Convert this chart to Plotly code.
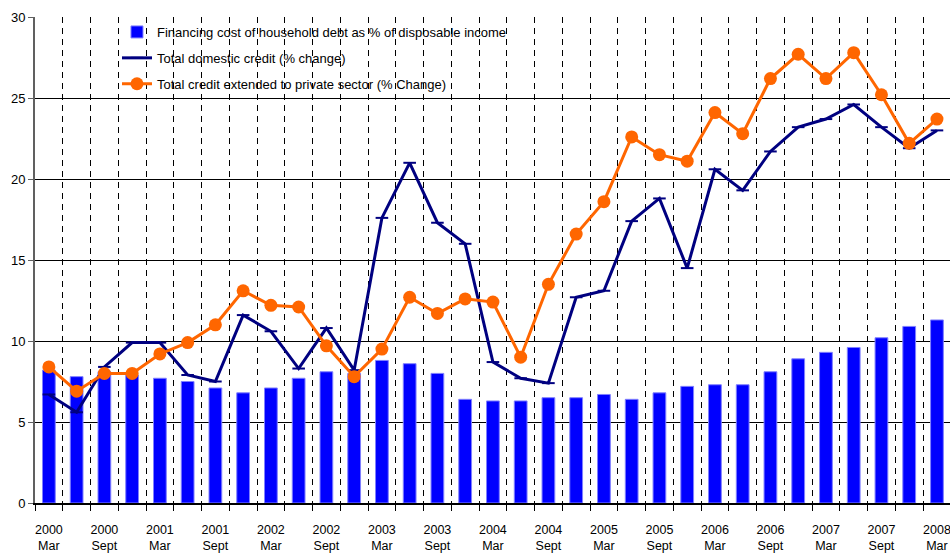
import plotly.graph_objects as go

years = ["2000", "2001", "2002", "2003", "2004", "2005", "2006", "2007", "2008"]
months = ["Mar", "Jun", "Sept", "Dec"]
quarters = [f"{y}<br>{m}" for y in years for m in months][:33]

financing_cost = [8.2, 7.8, 8.1, 7.9, 7.7, 7.5, 7.1, 6.8, 7.1, 7.7,
                  8.1, 8.0, 8.8, 8.6, 8.0, 6.4, 6.3, 6.3, 6.5, 6.5,
                  6.7, 6.4, 6.8, 7.2, 7.3, 7.3, 8.1, 8.9, 9.3, 9.6,
                  10.2, 10.9, 11.3]
domestic_credit = [6.7, 5.6, 8.4, 9.9, 9.9, 7.9, 7.5, 11.6, 10.6, 8.3,
                   10.8, 8.2, 17.6, 21.0, 17.3, 16.0, 8.7, 7.7, 7.4, 12.7,
                   13.1, 17.4, 18.8, 14.5, 20.6, 19.3, 21.7, 23.2, 23.7, 24.6,
                   23.2, 21.9, 23.0]
private_credit = [8.4, 6.9, 8.0, 8.0, 9.2, 9.9, 11.0, 13.1, 12.2, 12.1,
                  9.7, 7.8, 9.5, 12.7, 11.7, 12.6, 12.4, 9.0, 13.5, 16.6,
                  18.6, 22.6, 21.5, 21.1, 24.1, 22.8, 26.2, 27.7, 26.2, 27.8,
                  25.2, 22.2, 23.7]

idx = list(range(len(quarters)))
FONT = "Liberation Sans, Arial, sans-serif"

fig = go.Figure()
fig.add_trace(go.Bar(
    x=idx, y=financing_cost, width=0.46,
    name="Financing cost of household debt as % of disposable income",
    legendgroup="a",
    marker=dict(color="#0000FF", line=dict(color="#8080FF", width=1)),
))
fig.add_trace(go.Scatter(
    x=idx, y=domestic_credit, mode="lines+markers",
    name="Total domestic credit (% change)", legendgroup="b",
    line=dict(color="#000080", width=3),
    marker=dict(symbol="line-ew", size=9, line=dict(color="#000080", width=2)),
))
fig.add_trace(go.Scatter(
    x=idx, y=private_credit, mode="lines+markers",
    name="Total credit extended to private sector (% Change)", legendgroup="c",
    line=dict(color="#FF6600", width=3),
    marker=dict(symbol="circle", size=13, color="#FF6600"),
))

fig.update_layout(
    width=950, height=557,
    margin=dict(l=35, r=0, t=17, b=54),
    plot_bgcolor="white", paper_bgcolor="white",
    font=dict(family=FONT, size=12, color="black"),
    showlegend=True,
    legend=dict(
        x=0.0896, y=1.0, xanchor="left", yanchor="top",
        bgcolor="rgba(0,0,0,0)", font=dict(family=FONT, size=13),
        traceorder="grouped", tracegroupgap=6,
    ),
    xaxis=dict(
        range=[-0.5, 32.47], automargin=False,
        tickmode="array",
        tickvals=idx[::2], ticktext=quarters[::2],
        ticks="", showgrid=False, zeroline=False,
        ticklabeloverflow="allow", ticklabelstandoff=14,
        showline=True, linecolor="black", linewidth=2,
        tickfont=dict(family=FONT, size=12.5),
        minor=dict(tickmode="linear", tick0=0.5, dtick=1,
                   showgrid=True, griddash="6px,5px", gridcolor="black",
                   gridwidth=1, ticks="outside", ticklen=6,
                   tickcolor="black", tickwidth=1),
    ),
    yaxis=dict(
        range=[0, 30], tickmode="linear", tick0=0, dtick=5, automargin=False,
        showgrid=True, gridcolor="black", gridwidth=1, zeroline=False,
        showline=True, linecolor="#606060", linewidth=2,
        ticks="outside", ticklen=5, tickcolor="#606060",
        tickfont=dict(family=FONT, size=13),
    ),
    bargap=0.5,
)

fig.write_html(
    "out.html",
    config={"displayModeBar": False},
    post_script="document.body.style.margin='0';document.body.style.overflow='hidden';",
)
